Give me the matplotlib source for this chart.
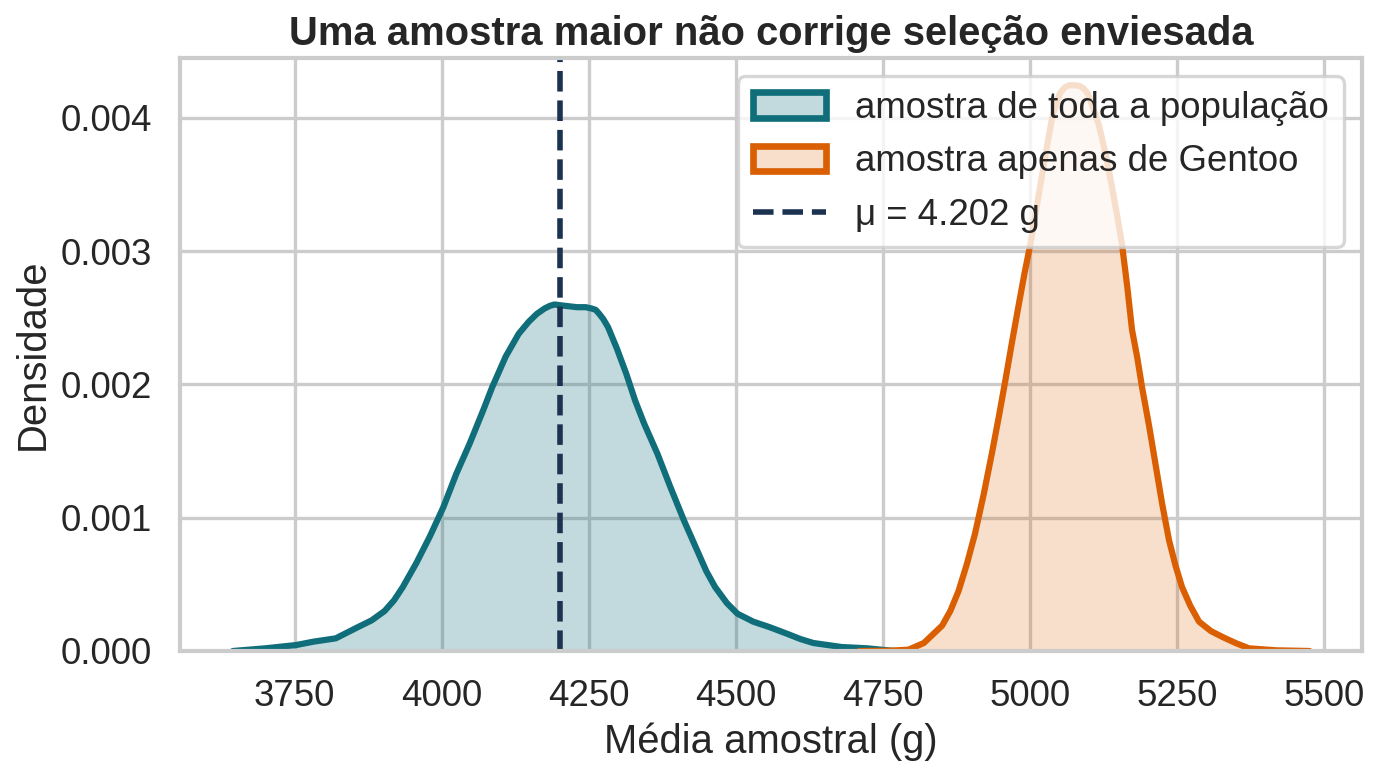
import numpy as np
import matplotlib
matplotlib.use("Agg")
import matplotlib.pyplot as plt
import seaborn as sns
from matplotlib.patches import Patch
from matplotlib.lines import Line2D

# Densities (x in g, density)
pop_x = [3645, 3700, 3753, 3782, 3820, 3858, 3881, 3903, 3919, 3934, 3957,
         3980, 4003, 4025, 4048, 4071, 4086, 4109, 4131, 4148, 4162, 4175,
         4184, 4192, 4210, 4230, 4245, 4255, 4262, 4268, 4275, 4283, 4298,
         4314, 4329, 4344, 4367, 4389, 4412, 4427, 4450, 4465, 4485, 4503,
         4530, 4557, 4587, 4610, 4632, 4680, 4724, 4770]
pop_y = [0.0, 0.00002, 0.000045, 0.00007, 0.000095, 0.00018, 0.00023,
         0.00030, 0.00038, 0.00048, 0.00066, 0.00086, 0.00108, 0.00133,
         0.00156, 0.00181, 0.00198, 0.00221, 0.00238, 0.00247, 0.00253,
         0.00257, 0.00259, 0.00260, 0.00259, 0.00258, 0.00258, 0.00257,
         0.00256, 0.00253, 0.00249, 0.00243, 0.00227, 0.00208, 0.00188,
         0.00171, 0.00148, 0.00123, 0.00098, 0.00083, 0.00060, 0.00048,
         0.00036, 0.00028, 0.00022, 0.00018, 0.00013, 0.00009, 0.00006,
         0.00003, 0.00002, 0.0]

gentoo_x = [4710, 4760, 4794, 4820, 4851, 4865, 4879, 4893, 4907, 4922, 4936,
            4948, 4959, 4970, 4981, 4991, 5001, 5011, 5021, 5030, 5038, 5046,
            5052, 5060, 5067, 5078, 5085, 5092, 5099, 5106, 5118, 5129, 5140,
            5149, 5157, 5166, 5174, 5183, 5191, 5203, 5214, 5225, 5237, 5248,
            5259, 5273, 5288, 5308, 5328, 5350, 5373, 5420, 5476]
gentoo_y = [0.0, 0.000002, 0.00001, 0.00006, 0.00019, 0.0003, 0.00045,
            0.00065, 0.00088, 0.00118, 0.00149, 0.00177, 0.00204, 0.00232,
            0.00259, 0.00283, 0.00305, 0.00331, 0.00357, 0.0038, 0.004,
            0.00412, 0.00419, 0.00423, 0.004245, 0.004245, 0.00424, 0.00422,
            0.00418, 0.0041, 0.00394, 0.00373, 0.00348, 0.00326, 0.00305,
            0.00273, 0.00241, 0.0022, 0.00198, 0.00169, 0.0014, 0.00111,
            0.00083, 0.00064, 0.00048, 0.00034, 0.00022, 0.00015, 0.000105,
            0.00006, 0.00002, 0.000005, 0.0]

mu = 4202
labels = ["amostra de toda a população", "amostra apenas de Gentoo",
          "μ = 4.202 g"]

teal = "#0f6e7a"
orange = "#d95f02"
navy = "#1b3250"

sns.set_theme(style="whitegrid", context="talk")
plt.rcParams['font.family'] = ['Liberation Sans', 'DejaVu Sans']

fig, ax = plt.subplots(figsize=(13.82 / 1.6, 7.75 / 1.6), dpi=160)
fig.subplots_adjust(left=0.1302, right=0.9855, bottom=0.16, top=0.9252)

ax.fill_between(pop_x, 0, pop_y, facecolor=teal, alpha=0.25, edgecolor=teal,
                linewidth=0.6)
ax.plot(pop_x, pop_y, color=teal, lw=2.8, solid_joinstyle='round')
ax.fill_between(gentoo_x, 0, gentoo_y, facecolor=orange, alpha=0.2,
                edgecolor=orange, linewidth=0.6)
ax.plot(gentoo_x, gentoo_y, color=orange, lw=2.8, solid_joinstyle='round')

ax.axvline(mu, color=navy, ls='--', lw=2.5)

ax.set_xlim(3555, 5565)
ax.set_ylim(0, 0.00445)
ax.set_xticks([3750, 4000, 4250, 4500, 4750, 5000, 5250, 5500])
ax.set_yticks([0.0, 0.001, 0.002, 0.003, 0.004])

ax.set_title("Uma amostra maior não corrige seleção enviesada",
             fontweight='bold')
ax.set_xlabel("Média amostral (g)")
ax.set_ylabel("Densidade")

handles = [Patch(facecolor=(*matplotlib.colors.to_rgb(teal), 0.25),
                 edgecolor=teal, linewidth=3),
           Patch(facecolor=(*matplotlib.colors.to_rgb(orange), 0.2),
                 edgecolor=orange, linewidth=3),
           Line2D([0], [0], color=navy, ls='--', lw=2.5)]
ax.legend(handles, labels, loc='upper right')

fig.savefig("out.png", dpi=160)
